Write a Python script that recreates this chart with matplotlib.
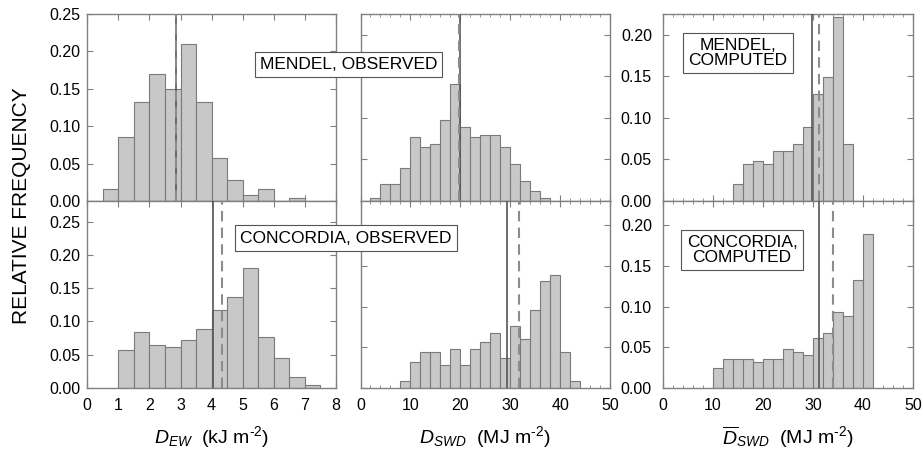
import numpy as np
import matplotlib.pyplot as plt
from matplotlib.ticker import MultipleLocator

plt.rcParams['font.family'] = ['Liberation Sans', 'DejaVu Sans']
plt.rcParams['mathtext.fontset'] = 'custom'
plt.rcParams['mathtext.rm'] = 'Liberation Sans'
plt.rcParams['mathtext.it'] = 'Liberation Sans:italic'

# relative frequency histograms (bin left edges + heights)
mo_ew_edges = [0.5, 1.0, 1.5, 2.0, 2.5, 3.0, 3.5, 4.0, 4.5, 5.0, 5.5, 6.0, 6.5]
mo_ew_freq = [0.016, 0.085, 0.133, 0.170, 0.150, 0.210, 0.133, 0.057, 0.028, 0.008, 0.016, 0.0, 0.004]

co_ew_edges = [1.0, 1.5, 2.0, 2.5, 3.0, 3.5, 4.0, 4.5, 5.0, 5.5, 6.0, 6.5, 7.0]
co_ew_freq = [0.057, 0.084, 0.065, 0.061, 0.072, 0.089, 0.117, 0.137, 0.181, 0.077, 0.045, 0.016, 0.005]

mo_swd_edges = [2, 4, 6, 8, 10, 12, 14, 16, 18, 20, 22, 24, 26, 28, 30, 32, 34, 36]
mo_swd_freq = [0.004, 0.020, 0.020, 0.040, 0.077, 0.065, 0.068, 0.097, 0.141,
               0.089, 0.077, 0.080, 0.080, 0.065, 0.044, 0.024, 0.012, 0.004]

co_swd_edges = [8, 10, 12, 14, 16, 18, 20, 22, 24, 26, 28, 30, 32, 34, 36, 38, 40, 42]
co_swd_freq = [0.008, 0.032, 0.044, 0.044, 0.028, 0.048, 0.028, 0.048, 0.056,
               0.068, 0.037, 0.076, 0.060, 0.096, 0.132, 0.139, 0.044, 0.008]

mc_swd_edges = [14, 16, 18, 20, 22, 24, 26, 28, 30, 32, 34, 36]
mc_swd_freq = [0.020, 0.044, 0.048, 0.044, 0.060, 0.060, 0.068, 0.089, 0.129, 0.149, 0.221, 0.068]

cc_swd_edges = [10, 12, 14, 16, 18, 20, 22, 24, 26, 28, 30, 32, 34, 36, 38, 40]
cc_swd_freq = [0.025, 0.036, 0.036, 0.036, 0.032, 0.036, 0.036, 0.048, 0.044,
               0.041, 0.061, 0.068, 0.093, 0.089, 0.133, 0.189]

# (solid, dashed) vertical reference lines
mo_ew_lines = (2.86, 2.84)
co_ew_lines = (4.05, 4.34)
mo_swd_lines = (19.9, 19.8)
co_swd_lines = (29.3, 31.8)
mc_swd_lines = (29.7, 31.1)
cc_swd_lines = (31.1, 33.9)

W, H = 923, 461
fig = plt.figure(figsize=(W / 100, H / 100), dpi=100)

cols = [(87.2, 336), (360.5, 610), (663, 913)]
rows = [(14, 201), (201, 388)]

spine_c = '#808080'


def make_ax(col, row):
    x0, x1 = cols[col]
    y0, y1 = rows[row]
    ax = fig.add_axes([x0 / W, 1 - y1 / H, (x1 - x0) / W, (y1 - y0) / H])
    for s in ax.spines.values():
        s.set_color(spine_c)
        s.set_linewidth(1.0)
    ax.tick_params(which='both', direction='in', top=True, right=True,
                   color=spine_c, labelsize=11.5, labelcolor='black')
    ax.tick_params(which='major', length=4)
    ax.tick_params(which='minor', length=2.5)
    return ax


def draw(ax, edges, freq, width, lines):
    ax.bar(edges, freq, width=width, align='edge', color='#c8c8c8',
           edgecolor='#7a7a7a', linewidth=0.8, zorder=2)
    ax.axvline(lines[0], color='#555555', lw=1.2, zorder=3)
    ax.axvline(lines[1], color='#8c8c8c', lw=1.5, ls=(0, (5, 3)), zorder=4)


panels = [
    (0, 0, mo_ew_edges, mo_ew_freq, 0.5, mo_ew_lines),
    (0, 1, co_ew_edges, co_ew_freq, 0.5, co_ew_lines),
    (1, 0, mo_swd_edges, mo_swd_freq, 2, mo_swd_lines),
    (1, 1, co_swd_edges, co_swd_freq, 2, co_swd_lines),
    (2, 0, mc_swd_edges, mc_swd_freq, 2, mc_swd_lines),
    (2, 1, cc_swd_edges, cc_swd_freq, 2, cc_swd_lines),
]

ylims = {(0, 0): 0.25, (0, 1): 0.281, (1, 0): 0.225, (1, 1): 0.23,
         (2, 0): 0.225, (2, 1): 0.23}

axes = {}
for col, row, e, f, w, ln in panels:
    ax = make_ax(col, row)
    draw(ax, e, f, w, ln)
    ax.set_ylim(0, ylims[(col, row)])
    ax.yaxis.set_major_locator(MultipleLocator(0.05))
    ax.yaxis.set_major_formatter(lambda v, p: f'{v:.2f}')
    if col == 0:
        ax.set_xlim(0, 8)
        ax.xaxis.set_major_locator(MultipleLocator(1))
        ax.tick_params(axis='y', pad=5)
    else:
        ax.set_xlim(0, 50)
        ax.xaxis.set_major_locator(MultipleLocator(10))
        ax.xaxis.set_minor_locator(MultipleLocator(2))
        ax.tick_params(axis='y', pad=8)
    if col == 1:
        ax.tick_params(axis='y', labelleft=False)
    if row == 0:
        ax.tick_params(axis='x', labelbottom=False)
    else:
        ax.tick_params(axis='x', pad=7)
    axes[(col, row)] = ax

xl_kw = dict(fontsize=14, labelpad=8)
axes[(0, 1)].set_xlabel(r'$D_{EW}$  (kJ m$^{\text{-2}}$)', **xl_kw)
axes[(1, 1)].set_xlabel(r'$D_{SWD}$  (MJ m$^{\text{-2}}$)', **xl_kw)
axes[(2, 1)].set_xlabel(r'$\overline{D}_{SWD}$  (MJ m$^{\text{-2}}$)', **xl_kw)

fig.text(22 / W, 1 - 205.5 / H, 'RELATIVE FREQUENCY', rotation=90,
         ha='center', va='center', fontsize=15)

box = dict(boxstyle='square,pad=0.3', fc='white', ec='#555555', lw=0.8)
fig.text(348.5 / W, 1 - 64.5 / H, 'MENDEL, OBSERVED', ha='center', va='center',
         fontsize=12.5, bbox=box, zorder=10)
fig.text(346 / W, 1 - 238 / H, 'CONCORDIA, OBSERVED', ha='center', va='center',
         fontsize=12.5, bbox=box, zorder=10)
fig.text(738 / W, 1 - 53 / H, 'MENDEL,\nCOMPUTED', ha='center', va='center',
         fontsize=12.5, bbox=box, zorder=10, linespacing=1.0)
fig.text(742 / W, 1 - 250 / H, 'CONCORDIA,\nCOMPUTED', ha='center', va='center',
         fontsize=12.5, bbox=box, zorder=10, linespacing=1.0)

fig.savefig('out.png', dpi=100)
